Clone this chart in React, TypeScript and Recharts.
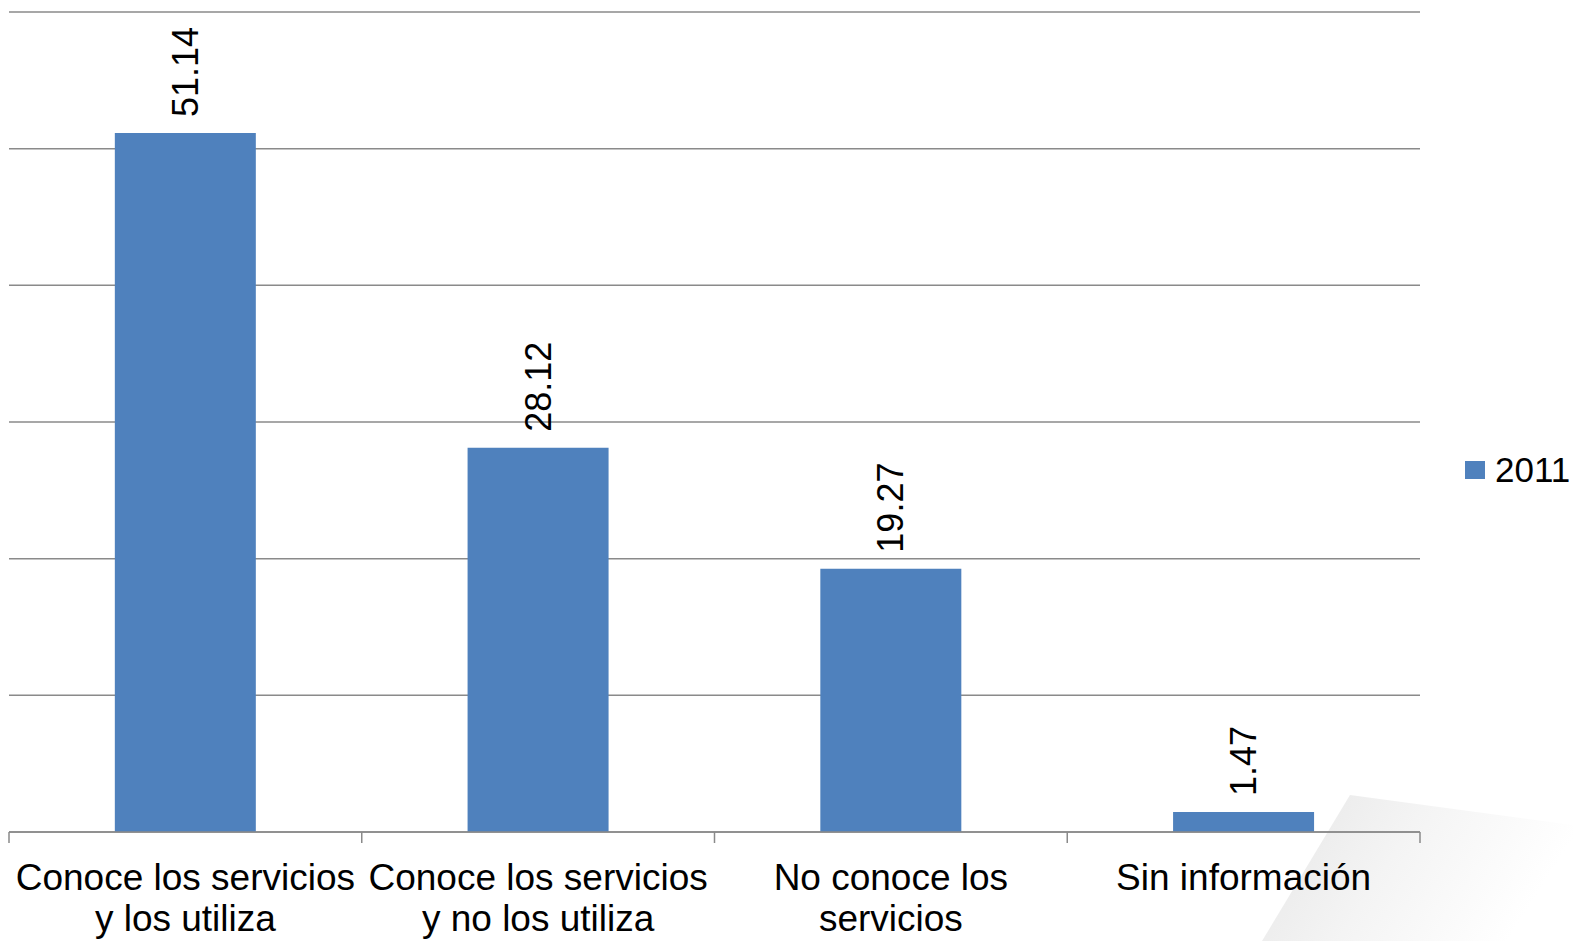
import React from "react";
import {
	BarChart,
	Bar,
	XAxis,
	YAxis,
	CartesianGrid,
	LabelList,
} from "recharts";

// Categories (line breaks as shown under the axis)
const CATEGORIES = [
	"Conoce los servicios\ny los utiliza",
	"Conoce los servicios\ny no los utiliza",
	"No conoce los\nservicios",
	"Sin información",
];
const SERIES_NAME = "2011";
const VALUES_2011 = [51.14, 28.12, 19.27, 1.47];
const Y_TICKS = [0, 10, 20, 30, 40, 50, 60];

const BAR_COLOR = "#4F81BD";
const GRID_COLOR = "#8a8a8a";
const FONT = "'Liberation Sans', Arial, sans-serif";

const data = CATEGORIES.map((name, i) => ({ name, value: VALUES_2011[i] }));

function CategoryTick(props: any) {
	const { x, y, payload, index, visibleTicksCount } = props;
	const lines = String(payload.value).split("\n");
	const half = payload.offset ?? 0;
	const isLast = index === visibleTicksCount - 1;
	return (
		<g>
			{/* tick marks sit on the category boundaries */}
			{half > 0 && (
				<line
					x1={x - half}
					x2={x - half}
					y1={y}
					y2={y + 11}
					stroke={GRID_COLOR}
					strokeWidth={1.5}
				/>
			)}
			{half > 0 && isLast && (
				<line
					x1={x + half}
					x2={x + half}
					y1={y}
					y2={y + 11}
					stroke={GRID_COLOR}
					strokeWidth={1.5}
				/>
			)}
			<text
				x={x}
				y={y + 58}
				textAnchor="middle"
				fontSize={37}
				fontFamily={FONT}
				fill="#000">
				{lines.map((line, i) => (
					<tspan
						key={i}
						x={x}
						dy={i === 0 ? 0 : 41}>
						{line}
					</tspan>
				))}
			</text>
		</g>
	);
}

function ValueLabel(props: any) {
	const { x, y, width, value } = props;
	const cx = x + width / 2;
	const cy = y - 16;
	return (
		<text
			x={cx}
			y={cy}
			transform={`rotate(-90, ${cx}, ${cy})`}
			textAnchor="start"
			dominantBaseline="central"
			fontSize={36}
			fontFamily={FONT}
			fill="#000">
			{Number(value).toFixed(2)}
		</text>
	);
}

export default function App() {
	return (
		<div
			style={{
				position: "absolute",
				left: 0,
				top: 0,
				width: 1573,
				height: 941,
				background: "#fff",
				overflow: "hidden",
			}}>
			{/* light page-curl decoration in the corner */}
			<svg
				width={1573}
				height={941}
				style={{ position: "absolute", left: 0, top: 0 }}>
				<defs>
					<linearGradient
						id="curl"
						x1="0"
						y1="0"
						x2="1"
						y2="0.3">
						<stop
							offset="0%"
							stopColor="#e6e6e6"
						/>
						<stop
							offset="50%"
							stopColor="#f4f4f4"
						/>
						<stop
							offset="100%"
							stopColor="#ffffff"
						/>
					</linearGradient>
				</defs>
				<polygon
					points="1350,795 1573,825 1573,941 1262,941"
					fill="url(#curl)"
				/>
			</svg>

			<div style={{ position: "absolute", left: 0, top: 0 }}>
				<BarChart
					width={1573}
					height={941}
					data={data}
					margin={{ top: 12, right: 153, left: 9, bottom: 0 }}
					barCategoryGap="30%">
					<CartesianGrid
						vertical={false}
						stroke={GRID_COLOR}
						strokeWidth={1.5}
					/>
					<YAxis
						hide
						domain={[0, 60]}
						ticks={Y_TICKS}
					/>
					<XAxis
						dataKey="name"
						height={109}
						interval={0}
						axisLine={{ stroke: GRID_COLOR, strokeWidth: 1.5 }}
						tickLine={false}
						tickSize={0}
						tickMargin={0}
						tick={<CategoryTick />}
					/>
					<Bar
						dataKey="value"
						name={SERIES_NAME}
						fill={BAR_COLOR}
						isAnimationActive={false}>
						<LabelList
							dataKey="value"
							content={<ValueLabel />}
						/>
					</Bar>
				</BarChart>
			</div>

			{/* legend */}
			<div
				style={{
					position: "absolute",
					left: 1465,
					top: 450,
					display: "flex",
					alignItems: "center",
					fontFamily: FONT,
					fontSize: 35,
					color: "#000",
					whiteSpace: "nowrap",
				}}>
				<span
					style={{
						display: "inline-block",
						width: 20,
						height: 18,
						background: BAR_COLOR,
						marginRight: 10,
					}}
				/>
				<span>{SERIES_NAME}</span>
			</div>
		</div>
	);
}
